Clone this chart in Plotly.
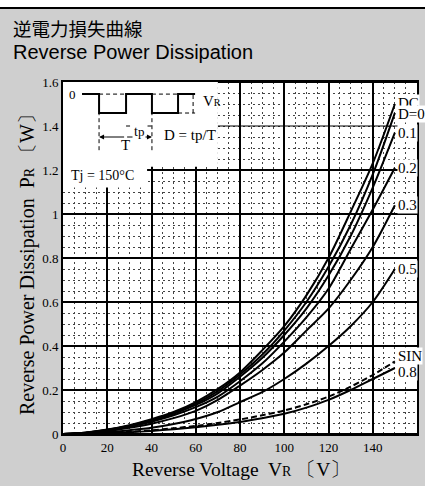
import plotly.graph_objects as go

# ---------------- data ----------------
V = [0, 10, 20, 30, 40, 50, 60, 70, 80, 90, 100, 110, 120, 130, 140, 150]
P_DC  = [0, 0.006, 0.020, 0.040, 0.067, 0.100, 0.145, 0.205, 0.280, 0.380, 0.490, 0.630, 0.800, 1.010, 1.230, 1.500]
P_005 = [0, 0.006, 0.019, 0.038, 0.064, 0.096, 0.138, 0.195, 0.270, 0.360, 0.470, 0.600, 0.760, 0.950, 1.180, 1.460]
P_01  = [0, 0.006, 0.018, 0.036, 0.061, 0.092, 0.132, 0.185, 0.260, 0.345, 0.450, 0.570, 0.720, 0.900, 1.120, 1.370]
P_02  = [0, 0.005, 0.016, 0.033, 0.056, 0.085, 0.122, 0.170, 0.240, 0.320, 0.420, 0.530, 0.660, 0.840, 1.020, 1.210]
P_03  = [0, 0.004, 0.013, 0.028, 0.047, 0.072, 0.105, 0.155, 0.220, 0.290, 0.370, 0.470, 0.570, 0.700, 0.850, 1.040]
P_05  = [0, 0.003, 0.008, 0.017, 0.028, 0.045, 0.068, 0.100, 0.145, 0.190, 0.250, 0.320, 0.400, 0.490, 0.600, 0.750]
P_SIN = [0, 0.0015, 0.005, 0.010, 0.017, 0.026, 0.037, 0.050, 0.066, 0.085, 0.107, 0.135, 0.170, 0.215, 0.268, 0.330]
P_08  = [0, 0.001, 0.004, 0.008, 0.014, 0.022, 0.031, 0.042, 0.055, 0.072, 0.092, 0.120, 0.155, 0.200, 0.250, 0.300]

SERIES = [P_DC, P_005, P_01, P_02, P_03, P_05, P_SIN, P_08]
LABELS = ["DC", "D=0.05", "0.1", "0.2", "0.3", "0.5", "SIN", "0.8"]
DASHED = [False, False, False, False, False, False, True, False]
LABEL_SHIFT = [1, -1, 0, 0, 0, 0, 5, -4]

X_TICKS = [0, 20, 40, 60, 80, 100, 120, 140, 160]
X_TICKTEXT = ["0", "20", "40", "60", "80", "100", "120", "140", "160"]
Y_TICKS = [0, 0.2, 0.4, 0.6, 0.8, 1.0, 1.2, 1.4, 1.6]
Y_TICKTEXT = ["0", "0.2", "0.4", "0.6", "0.8", "1", "1.2", "1.4", "1.6"]

# ---------------- layout geometry ----------------
W, H = 425, 486
ML, MR, MT, MB = 63, 8, 82, 52
PW, PH = W - ML - MR, H - MT - MB
SERIF = "Liberation Serif"
BG = "#cfcfcf"


def px_x(x):
    return (x - ML) / PW


def px_y(y):
    return (H - MB - y) / PH


fig = go.Figure()

for vals, name, dashed in zip(SERIES, LABELS, DASHED):
    fig.add_trace(go.Scatter(
        x=V, y=vals, mode="lines", name=name,
        line=dict(color="black", width=2, shape="spline", smoothing=0.8,
                  dash="6px,3px" if dashed else "solid"),
        showlegend=False, hoverinfo="skip"))

shapes = []
# horizontal major grid lines (1.4 drawn thinner, as in the reference)
for yv in Y_TICKS:
    shapes.append(dict(type="line", xref="x", yref="y", x0=0, x1=160, y0=yv, y1=yv,
                       line=dict(color="black", width=1 if abs(yv - 1.4) < 1e-9 else 2),
                       layer="between"))
# white inset boxes
shapes.append(dict(type="rect", xref="x", yref="y", x0=0, x1=70, y0=1.215, y1=1.6,
                   fillcolor="white", line=dict(width=0), layer="between"))
shapes.append(dict(type="rect", xref="x", yref="y", x0=0, x1=38, y0=1.12, y1=1.6,
                   fillcolor="white", line=dict(width=0), layer="between"))

# waveform diagram in inset
TOP, BOT = 1.545, 1.459
wave = (f"M 8.6,{TOP} L 16.3,{TOP} L 16.3,{BOT} L 28.5,{BOT} L 28.5,{TOP} "
        f"L 40.2,{TOP} L 40.2,{BOT} L 52,{BOT} L 52,{TOP} L 59.7,{TOP}")
shapes.append(dict(type="path", xref="x", yref="y", path=wave,
                   line=dict(color="black", width=2), layer="above"))
dash_line = dict(color="black", width=1, dash="4px,3px")
shapes.append(dict(type="line", xref="x", yref="y", x0=16.3, x1=28.5, y0=TOP, y1=TOP, line=dash_line, layer="above"))
shapes.append(dict(type="line", xref="x", yref="y", x0=40.2, x1=52, y0=TOP, y1=TOP, line=dash_line, layer="above"))
shapes.append(dict(type="line", xref="x", yref="y", x0=52, x1=59.7, y0=BOT, y1=BOT, line=dash_line, layer="above"))
shapes.append(dict(type="line", xref="x", yref="y", x0=58.8, x1=58.8, y0=BOT, y1=TOP, line=dash_line, layer="above"))
shapes.append(dict(type="line", xref="x", yref="y", x0=16.3, x1=16.3, y0=1.29, y1=BOT, line=dash_line, layer="above"))
shapes.append(dict(type="line", xref="x", yref="y", x0=40.2, x1=40.2, y0=1.29, y1=BOT, line=dash_line, layer="above"))
shapes.append(dict(type="line", xref="x", yref="y", x0=28.5, x1=30.5, y0=1.40, y1=1.40, line=dash_line, layer="above"))
shapes.append(dict(type="line", xref="x", yref="y", x0=38.2, x1=40.2, y0=1.40, y1=1.40, line=dash_line, layer="above"))

# page decorations: white top strip and black rule
shapes.append(dict(type="rect", xref="paper", yref="paper", x0=px_x(0), x1=px_x(W),
                   y0=px_y(7), y1=px_y(0), fillcolor="white", line=dict(width=0), layer="above"))
shapes.append(dict(type="line", xref="paper", yref="paper", x0=px_x(0), x1=px_x(W),
                   y0=px_y(8), y1=px_y(8), line=dict(color="black", width=2), layer="above"))

annotations = []
# curve labels
for vals, name, sh in zip(SERIES, LABELS, LABEL_SHIFT):
    annotations.append(dict(x=V[-1], y=vals[-1], xref="x", yref="y", text=name,
                            showarrow=False, xanchor="left", yanchor="middle",
                            xshift=2, yshift=sh, bgcolor="white", borderpad=0,
                            font=dict(family=SERIF, size=15, color="black")))

# T arrow
for xe in (16.3, 40.2):
    annotations.append(dict(x=xe, y=1.35, ax=28.3, ay=1.35, xref="x", yref="y",
                            axref="x", ayref="y", text="", showarrow=True,
                            arrowhead=2, arrowsize=1, arrowwidth=1, arrowcolor="black"))

inset_texts = [
    ("0", 4.1, TOP, 13),
    ("V<span style='font-size:10px'>R</span>", 67.5, 1.513, 15),
    ("t<span style='font-size:13px'>p</span>", 34.3, 1.375, 14),
    ("T", 28.4, 1.312, 15),
    ("D = tp/T", 57.5, 1.36, 15),
    ("Tj = 150°C", 18.0, 1.177, 14),
]
for txt, xx, yy, fs in inset_texts:
    annotations.append(dict(x=xx, y=yy, xref="x", yref="y", text=txt, showarrow=False,
                            xanchor="center", yanchor="middle",
                            bgcolor="white" if txt.startswith("t") else None,
                            font=dict(family=SERIF, size=fs, color="black")))

# titles
annotations.append(dict(x=px_x(11), y=px_y(28), xref="paper", yref="paper",
                        text="逆電力損失曲線", showarrow=False, xanchor="left", yanchor="middle",
                        font=dict(family="Noto Sans CJK JP", size=18.5, color="black")))
annotations.append(dict(x=px_x(11), y=px_y(52), xref="paper", yref="paper",
                        text="Reverse Power Dissipation", showarrow=False, xanchor="left",
                        yanchor="middle",
                        font=dict(family="Liberation Sans", size=20, color="black")))
# axis titles
annotations.append(dict(x=px_x(241), y=px_y(469), xref="paper", yref="paper",
                        text="Reverse Voltage  V<span style='font-size:14px'>R</span> 〔V〕",
                        showarrow=False, xanchor="center", yanchor="middle",
                        font=dict(family=SERIF, size=19.5, color="black")))
annotations.append(dict(x=px_x(27), y=px_y(260), xref="paper", yref="paper",
                        text="Reverse Power Dissipation  P<span style='font-size:14px'>R</span> 〔W〕",
                        showarrow=False, textangle=-90, xanchor="center", yanchor="middle",
                        font=dict(family=SERIF, size=20, color="black")))

fig.update_layout(
    width=W, height=H, autosize=False,
    margin=dict(l=ML, r=MR, t=MT, b=MB, pad=0, autoexpand=False),
    paper_bgcolor=BG, plot_bgcolor="white",
    shapes=shapes, annotations=annotations,
    showlegend=False,
    xaxis=dict(range=[0, 160], tickvals=X_TICKS, ticktext=X_TICKTEXT, automargin=False,
               showgrid=True, gridcolor="black", gridwidth=2,
               minor=dict(dtick=5, tick0=0, showgrid=True, gridcolor="#444444",
                          gridwidth=1, griddash="2px,3px"),
               showline=True, mirror=True, linecolor="black", linewidth=2,
               ticks="", zeroline=False, fixedrange=True,
               tickfont=dict(family=SERIF, size=13, color="black")),
    yaxis=dict(range=[0, 1.6], tickvals=Y_TICKS, ticktext=Y_TICKTEXT, automargin=False,
               showgrid=False,
               minor=dict(dtick=0.05, tick0=0, showgrid=True, gridcolor="#444444",
                          gridwidth=1, griddash="2px,3px"),
               showline=True, mirror=True, linecolor="black", linewidth=2,
               ticks="", zeroline=False, fixedrange=True,
               tickfont=dict(family=SERIF, size=13, color="black")),
)

fig.write_html("out.html", config={"displayModeBar": False},
               post_script="document.body.style.margin='0';document.body.style.overflow='hidden';")
